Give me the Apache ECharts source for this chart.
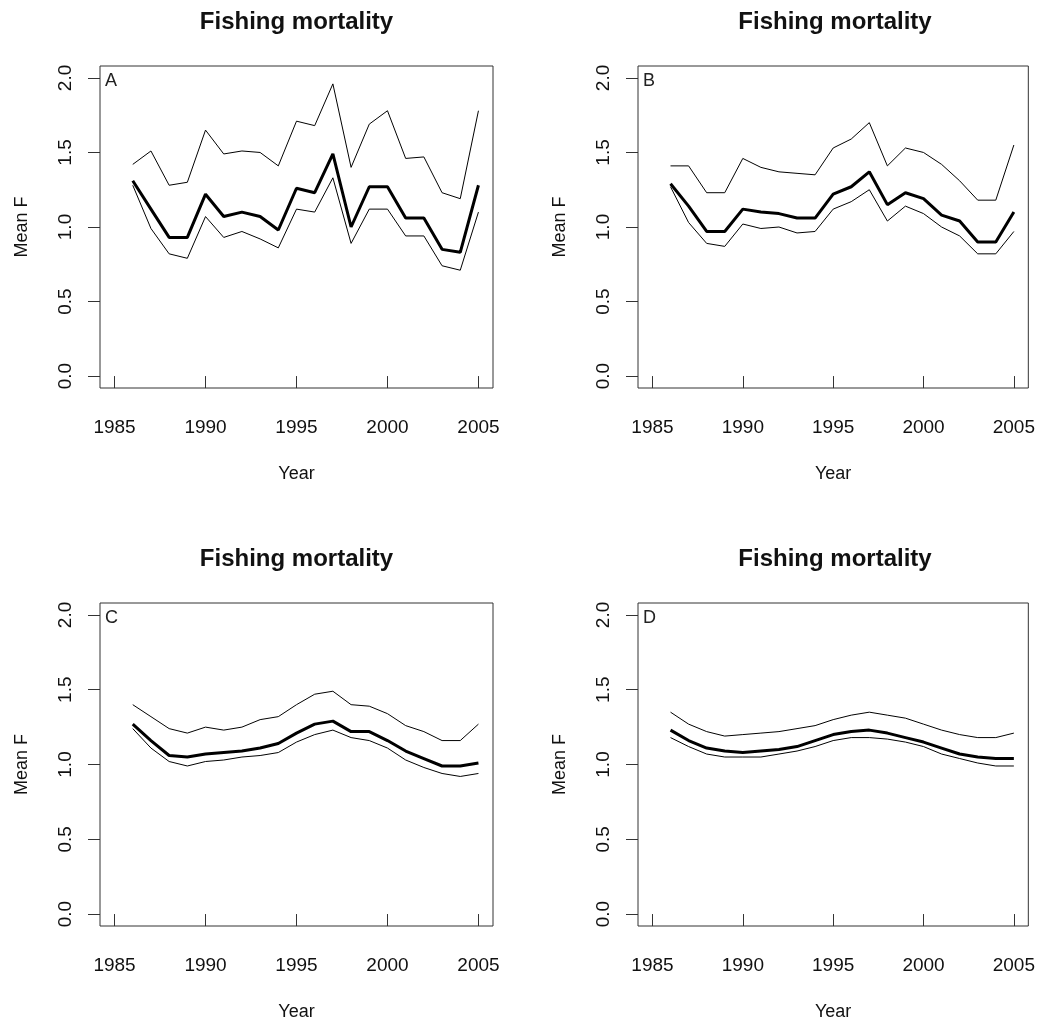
<!DOCTYPE html>
<html>
<head>
<meta charset="utf-8">
<script src="https://cdn.jsdelivr.net/npm/echarts@6/dist/echarts.min.js"></script>
<style>
html,body{margin:0;padding:0;background:#fff;}
#chart{width:1038px;height:1025px;}
</style>
</head>
<body>
<div id="chart"></div>
<script>
const years = [1986,1987,1988,1989,1990,1991,1992,1993,1994,1995,1996,1997,1998,1999,2000,2001,2002,2003,2004,2005];
const xTicks = [1985,1990,1995,2000,2005];
const yTicks = [0,0.5,1,1.5,2];
const panelLetters = ['A','B','C','D'];
const panelTitle = 'Fishing mortality';

const A_upper = [1.42,1.51,1.28,1.30,1.65,1.49,1.51,1.50,1.41,1.71,1.68,1.96,1.40,1.69,1.78,1.46,1.47,1.23,1.19,1.78];
const A_mean  = [1.31,1.12,0.93,0.93,1.22,1.07,1.10,1.07,0.98,1.26,1.23,1.49,1.00,1.27,1.27,1.06,1.06,0.85,0.83,1.28];
const A_lower = [1.28,0.99,0.82,0.79,1.07,0.93,0.97,0.92,0.86,1.12,1.10,1.33,0.89,1.12,1.12,0.94,0.94,0.74,0.71,1.10];

const B_upper = [1.41,1.41,1.23,1.23,1.46,1.40,1.37,1.36,1.35,1.53,1.59,1.70,1.41,1.53,1.50,1.42,1.31,1.18,1.18,1.55];
const B_mean  = [1.29,1.14,0.97,0.97,1.12,1.10,1.09,1.06,1.06,1.22,1.27,1.37,1.15,1.23,1.19,1.08,1.04,0.90,0.90,1.10];
const B_lower = [1.27,1.03,0.89,0.87,1.02,0.99,1.00,0.96,0.97,1.12,1.17,1.25,1.04,1.14,1.09,1.00,0.94,0.82,0.82,0.97];

const C_upper = [1.40,1.32,1.24,1.21,1.25,1.23,1.25,1.30,1.32,1.40,1.47,1.49,1.40,1.39,1.34,1.26,1.22,1.16,1.16,1.27];
const C_mean  = [1.27,1.16,1.06,1.05,1.07,1.08,1.09,1.11,1.14,1.21,1.27,1.29,1.22,1.22,1.16,1.09,1.04,0.99,0.99,1.01];
const C_lower = [1.24,1.11,1.02,0.99,1.02,1.03,1.05,1.06,1.08,1.15,1.20,1.23,1.18,1.16,1.11,1.03,0.98,0.94,0.92,0.94];

const D_upper = [1.35,1.27,1.22,1.19,1.20,1.21,1.22,1.24,1.26,1.30,1.33,1.35,1.33,1.31,1.27,1.23,1.20,1.18,1.18,1.21];
const D_mean  = [1.23,1.16,1.11,1.09,1.08,1.09,1.10,1.12,1.16,1.20,1.22,1.23,1.21,1.18,1.15,1.11,1.07,1.05,1.04,1.04];
const D_lower = [1.18,1.12,1.07,1.05,1.05,1.05,1.07,1.09,1.12,1.16,1.18,1.18,1.17,1.15,1.12,1.07,1.04,1.01,0.99,0.99];

const panels = [
  {upper:A_upper, mean:A_mean, lower:A_lower},
  {upper:B_upper, mean:B_mean, lower:B_lower},
  {upper:C_upper, mean:C_mean, lower:C_lower},
  {upper:D_upper, mean:D_mean, lower:D_lower}
];

const FONT = '"Liberation Sans", Arial, sans-serif';
const layout = [
  {left:100, top:66, width:393, height:322},
  {left:638, top:66, width:394, height:322},
  {left:100, top:603, width:393, height:323},
  {left:638, top:603, width:394, height:323}
];

const grids = [], xAxes = [], yAxes = [], series = [], graphics = [];
layout.forEach((g, i) => {
  grids.push({left:g.left, top:g.top, width:g.width, height:g.height, show:true,
    borderColor:'#333', borderWidth:1, backgroundColor:'transparent', containLabel:false});
  xAxes.push({
    type:'value', gridIndex:i, min:1984.2, max:2005.8,
    splitLine:{show:false}, axisLine:{show:false},
    axisTick:{show:true, length:12, lineStyle:{color:'#333', width:1}, customValues:xTicks},
    axisLabel:{show:true, customValues:xTicks, margin:30, fontSize:19, color:'#111', fontFamily:FONT,
      formatter: v => String(v)},
    name:'Year', nameLocation:'middle', nameGap:77,
    nameTextStyle:{fontSize:18, color:'#111', fontFamily:FONT}
  });
  yAxes.push({
    type:'value', gridIndex:i, min:-0.08, max:2.08,
    splitLine:{show:false}, axisLine:{show:false},
    axisTick:{show:true, length:12, lineStyle:{color:'#333', width:1}, customValues:yTicks},
    axisLabel:{show:true, customValues:yTicks, rotate:90, margin:25, fontSize:19, color:'#111', fontFamily:FONT,
      formatter: v => Number(v).toFixed(1)},
    name:'Mean F', nameLocation:'middle', nameGap:69, nameRotate:90,
    nameTextStyle:{fontSize:18, color:'#111', fontFamily:FONT}
  });
  const p = panels[i];
  const mk = (arr, w) => ({
    type:'line', xAxisIndex:i, yAxisIndex:i, showSymbol:false, symbol:'none',
    data: years.map((y, k) => [y, arr[k]]),
    lineStyle:{color:'#000', width:w}, silent:true, z: w > 1 ? 3 : 2
  });
  series.push(mk(p.upper, 1), mk(p.mean, 3), mk(p.lower, 1));
  graphics.push({type:'text', left:g.left + 5, top:g.top + 6,
    style:{text:panelLetters[i], fontSize:18, fill:'#222', fontFamily:FONT}});
  graphics.push({type:'text', x:g.left + g.width/2, y:g.top - 44,
    style:{text:panelTitle, fontSize:24, fontWeight:'bold', fill:'#111', fontFamily:FONT,
      textAlign:'center', textVerticalAlign:'middle'}});
});

const chart = echarts.init(document.getElementById('chart'), null, {renderer:'canvas'});
chart.setOption({
  animation:false,
  backgroundColor:'#fff',
  grid:grids, xAxis:xAxes, yAxis:yAxes, series:series,
  graphic:graphics
});
</script>
</body>
</html>
